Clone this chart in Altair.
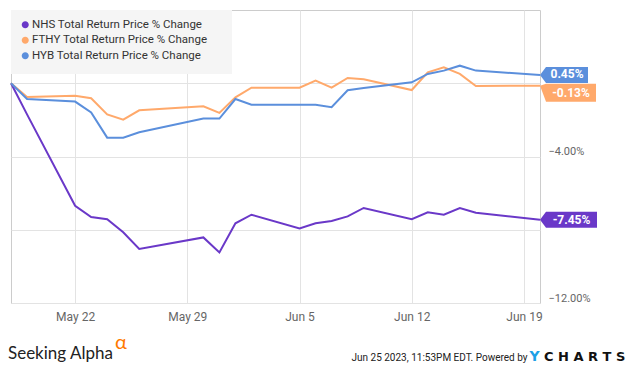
import altair as alt
import pandas as pd

# ---- data ----
dates = ["2023-05-18", "2023-05-19", "2023-05-22", "2023-05-23", "2023-05-24", "2023-05-25",
         "2023-05-26", "2023-05-30", "2023-05-31", "2023-06-01", "2023-06-02", "2023-06-05",
         "2023-06-06", "2023-06-07", "2023-06-08", "2023-06-09", "2023-06-12", "2023-06-13",
         "2023-06-14", "2023-06-15", "2023-06-16", "2023-06-20"]
nhs = [0.0, -1.70, -6.69, -7.31, -7.43, -8.14, -9.05, -8.42, -9.24, -7.65, -7.18, -7.93,
       -7.65, -7.52, -7.27, -6.81, -7.42, -7.05, -7.18, -6.81, -7.07, -7.45]
fthy = [0.0, -0.75, -0.68, -0.82, -1.70, -1.99, -1.48, -1.26, -1.62, -0.77, -0.24, -0.24,
        0.14, -0.24, 0.29, 0.22, -0.37, 0.60, 0.87, 0.51, -0.15, -0.13]
hyb = [0.0, -0.86, -1.00, -1.59, -2.97, -2.97, -2.68, -1.93, -1.93, -0.86, -1.17, -1.17,
       -1.17, -1.31, -0.38, -0.26, 0.05, 0.51, 0.69, 0.96, 0.69, 0.45]

series_names = ["NHS Total Return Price % Change",
                "FTHY Total Return Price % Change",
                "HYB Total Return Price % Change"]
series_colors = ["#6a38c8", "#ffa96b", "#5b8fdc"]
badge_labels = ["-7.45%", "-0.13%", "0.45%"]
x_tick_dates = ["2023-05-22", "2023-05-29", "2023-06-05", "2023-06-12", "2023-06-19"]
x_domain_dates = ["2023-05-18", "2023-06-20"]
y_ticks = [0, -4, -8, -12]
y_labelled = [-4, -12]


def dt(s):
    y, m, d = (int(p) for p in s.split("-"))
    return alt.DateTime(year=y, month=m, date=d, utc=True)


rows = []
for name, vals in zip(series_names, [nhs, fthy, hyb]):
    for d, v in zip(dates, vals):
        rows.append({"date": d, "series": name, "value": v})
df = pd.DataFrame(rows)

x_enc = alt.X(
    "date:T",
    scale=alt.Scale(type="utc", domain=[dt(s) for s in x_domain_dates]),
    axis=alt.Axis(
        values=[dt(s) for s in x_tick_dates],
        labelExpr="utcFormat(datum.value, '%b %-d')",
        title=None, grid=True, ticks=False, domain=False,
        labelColor="#666666", labelFontSize=12, labelFont="Roboto",
        labelPadding=8, labelFlush=False,
    ),
)
y_cond = " || ".join(f"datum.value == {v}" for v in y_labelled)
y_enc = alt.Y(
    "value:Q",
    scale=alt.Scale(domain=[-12, 4], nice=False, zero=False),
    axis=alt.Axis(
        orient="right", values=y_ticks, title=None, grid=True, ticks=False, domain=False,
        labelExpr=f"({y_cond}) ? format(datum.value, '.2f') + '%' : ''",
        labelColor="#666666", labelFontSize=11, labelFont="Roboto",
        labelPadding=8, labelOffset=-5, labelFlush=False,
    ),
)

legend_bg = alt.Chart(pd.DataFrame({"k": [0]})).mark_rect(color="#f5f5f5").encode(
    x=alt.value(0), x2=alt.value(221), y=alt.value(0), y2=alt.value(64)
)

lines = alt.Chart(df).mark_line(strokeWidth=2).encode(
    x=x_enc,
    y=y_enc,
    color=alt.Color(
        "series:N",
        scale=alt.Scale(domain=series_names, range=series_colors),
        legend=alt.Legend(
            orient="none", legendX=8.5, legendY=9, padding=0, title=None,
            symbolType="circle", symbolSize=12, symbolStrokeWidth=3.6,
            labelFontSize=11.5, labelFont="Roboto", labelColor="#333333",
            labelOffset=1, rowPadding=-3.5, labelLimit=300,
        ),
    ),
    order=alt.Order("date:T"),
)

# badge shapes (pixel path, tip at the line end) and text offsets per series
badge_paths = [
    "M0,0L6,-8L57,-8L57,8L6,8Z",
    "M0,0L6,-2L56,-2L56,16L6,16Z",
    "M0,0L6,-8L48,-8L48,8L6,8Z",
]
badge_dx = [31.5, 31, 27]
badge_dy = [0, 7, -1]

layers = [legend_bg, lines]
for name, color, label, path, dx, dy in zip(series_names, series_colors, badge_labels,
                                            badge_paths, badge_dx, badge_dy):
    sub = df[(df["series"] == name) & (df["date"] == dates[-1])].copy()
    sub["label"] = label
    base = alt.Chart(sub).encode(
        x=alt.X("date:T", scale=alt.Scale(type="utc")),
        y=alt.Y("value:Q"),
    )
    layers.append(base.mark_point(shape=path, size=4, filled=True, opacity=1,
                                  color=color, strokeWidth=0))
    layers.append(base.mark_text(color="white", fontWeight="bold", fontSize=12,
                                 font="Roboto", align="center", baseline="middle",
                                 dx=dx, dy=dy).encode(text="label:N"))

one = pd.DataFrame({"k": [0]})
footer = [
    alt.Chart(one).mark_text(text="Seeking Alpha", font="Lato", fontSize=17, color="#222222",
                             align="left", baseline="alphabetic").encode(
        x=alt.value(-3), y=alt.value(348.5)),
    alt.Chart(one).mark_text(text="α", font="Lato", fontSize=20, color="#ff7a00",
                             align="left", baseline="alphabetic").encode(
        x=alt.value(104), y=alt.value(339)),
    alt.Chart(one).mark_text(text="Jun 25 2023, 11:53PM EDT.  Powered by", font="Roboto",
                             fontSize=10, color="#222222", align="right",
                             baseline="alphabetic").encode(
        x=alt.value(516.5), y=alt.value(350.5)),
    alt.Chart(one).mark_text(text="Y", font="DejaVu Sans", fontWeight="bold", fontSize=14,
                             color="#1ea0e6", align="left", baseline="alphabetic").encode(
        x=alt.value(518.5), y=alt.value(350.5)),
    alt.Chart(one).mark_text(text="C H A R T S", font="DejaVu Sans", fontWeight="bold",
                             fontSize=13, color="#111111", align="left",
                             baseline="alphabetic").encode(
        x=alt.value(533), y=alt.value(350.5)),
]
layers.extend(footer)

chart = alt.layer(*layers).properties(
    width=529, height=293,
    padding={"left": 3, "top": 2, "right": 87, "bottom": 62},
    autosize=alt.AutoSizeParams(type="none"),
).configure_view(
    stroke="#cccccc", strokeWidth=1
).configure_axis(
    gridColor="#e3e3e3", gridWidth=1
)

chart.save("out.html", embed_options={"renderer": "svg", "actions": False})
